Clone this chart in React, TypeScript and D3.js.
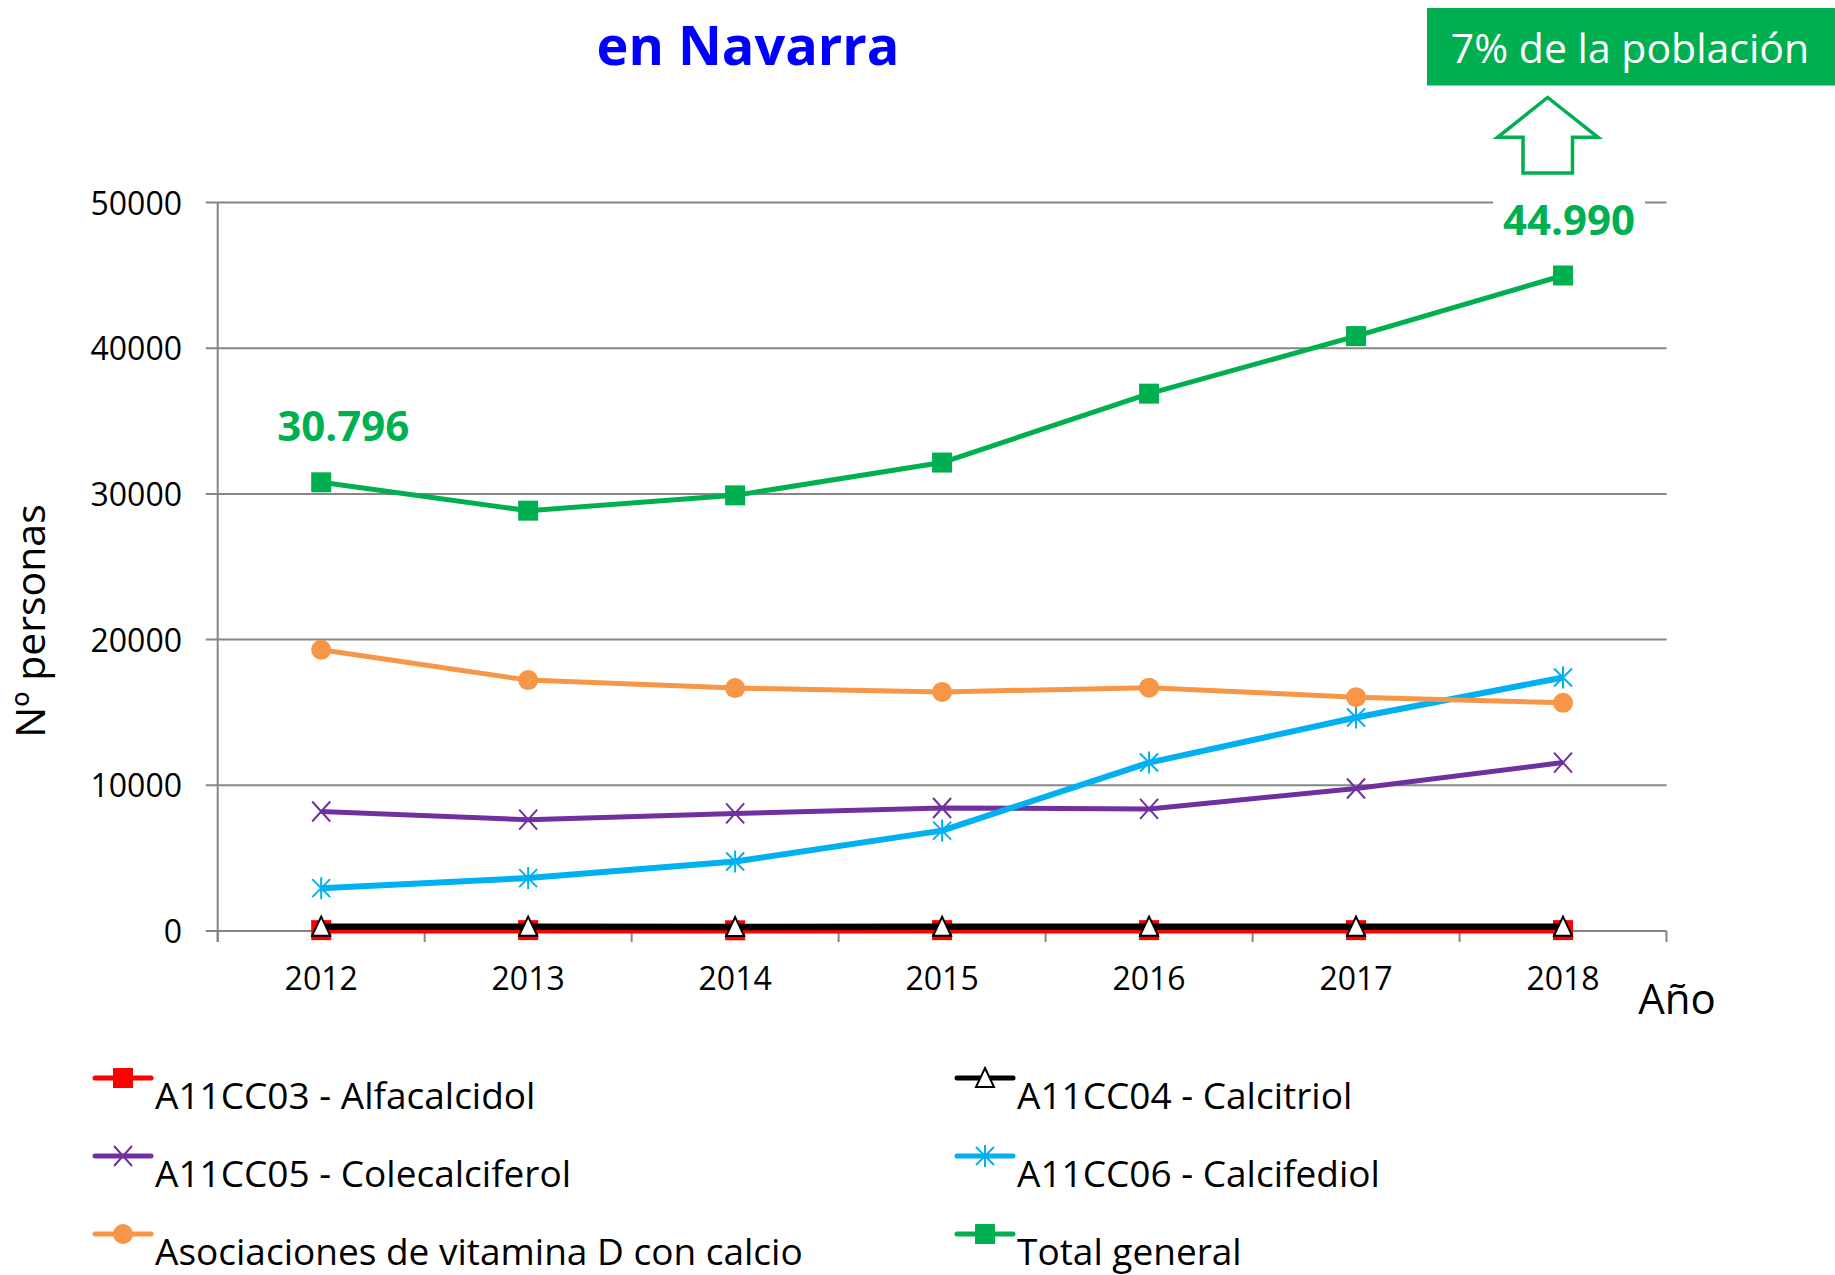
import React from "react";
import * as d3 from "d3";

const years = ["2012", "2013", "2014", "2015", "2016", "2017", "2018"];
const yTicks = [0, 10000, 20000, 30000, 40000, 50000];

const alfacalcidol = [60, 60, 50, 60, 60, 60, 60];
const calcitriol = [300, 300, 270, 290, 300, 300, 300];
const colecalciferol = [8200, 7640, 8070, 8440, 8380, 9780, 11560];
const calcifediol = [2940, 3630, 4770, 6890, 11560, 14650, 17400];
const asociaciones = [19300, 17220, 16670, 16410, 16700, 16050, 15660];
const totalGeneral = [30796, 28850, 29900, 32150, 36880, 40830, 44990];

const seriesNames = [
  "A11CC03 - Alfacalcidol",
  "A11CC04 - Calcitriol",
  "A11CC05 - Colecalciferol",
  "A11CC06 - Calcifediol",
  "Asociaciones de vitamina D con calcio",
  "Total general",
];

const FONT = "'Open Sans', 'DejaVu Sans', sans-serif";

type Marker = "square" | "triangle" | "x" | "star" | "circle";

const series: { name: string; values: number[]; color: string; width: number; marker: Marker }[] = [
  { name: seriesNames[0], values: alfacalcidol, color: "#FF0000", width: 6.5, marker: "square" },
  { name: seriesNames[1], values: calcitriol, color: "#000000", width: 6.5, marker: "triangle" },
  { name: seriesNames[2], values: colecalciferol, color: "#7030A0", width: 5, marker: "x" },
  { name: seriesNames[3], values: calcifediol, color: "#00B0F0", width: 6, marker: "star" },
  { name: seriesNames[4], values: asociaciones, color: "#F79646", width: 5, marker: "circle" },
  { name: seriesNames[5], values: totalGeneral, color: "#00B050", width: 5, marker: "square" },
];

function MarkerShape({ type, color, cx, cy }: { type: Marker; color: string; cx: number; cy: number }) {
  const s = 10;
  if (type === "square") {
    return <rect x={cx - s} y={cy - s} width={2 * s} height={2 * s} fill={color} />;
  }
  if (type === "circle") {
    return <circle cx={cx} cy={cy} r={s} fill={color} />;
  }
  if (type === "triangle") {
    return (
      <path
        d={`M${cx},${cy - 10} L${cx + 9},${cy + 9} L${cx - 9},${cy + 9} Z`}
        fill="#FFFFFF"
        stroke="#000000"
        strokeWidth={2}
        strokeLinejoin="miter"
      />
    );
  }
  if (type === "x") {
    return (
      <path
        d={`M${cx - 9},${cy - 10} L${cx + 9},${cy + 10} M${cx + 9},${cy - 10} L${cx - 9},${cy + 10}`}
        stroke={color}
        strokeWidth={2}
        fill="none"
      />
    );
  }
  return (
    <path
      d={`M${cx - 9},${cy - 9} L${cx + 9},${cy + 9} M${cx + 9},${cy - 9} L${cx - 9},${cy + 9} M${cx},${cy - 11} L${cx},${cy + 11}`}
      stroke={color}
      strokeWidth={2}
      fill="none"
    />
  );
}

export default function App() {
  const W = 1835;
  const H = 1275;
  const left = 217.7;
  const right = 1666.5;
  const top = 202.5;
  const bottom = 931;

  const x = d3.scaleBand<string>().domain(years).range([left, right]).padding(0);
  const y = d3.scaleLinear().domain([0, 50000]).range([bottom, top]);
  const cx = (yr: string) => (x(yr) as number) + x.bandwidth() / 2;

  const line = d3
    .line<number>()
    .x((_, i) => cx(years[i]))
    .y((v) => y(v));

  const gridColor = "#868686";
  const bandEdges = years.map((yr) => x(yr) as number).concat([right]);

  const legendCols = [95, 957];
  const legendRows = [1109, 1187, 1265];

  const last = years.length - 1;

  return (
    <svg
      width={W}
      height={H}
      viewBox={`0 0 ${W} ${H}`}
      style={{ position: "absolute", left: 0, top: 0, background: "#FFFFFF", display: "block" }}
    >
      <rect x={0} y={0} width={W} height={H} fill="#FFFFFF" />

      <text x={748} y={65} textAnchor="middle" fontFamily={FONT} fontWeight={700} fontSize={54} fill="#0000FF">
        en Navarra
      </text>

      {yTicks.map((t) => (
        <line key={t} x1={left - 12} x2={right} y1={y(t)} y2={y(t)} stroke={gridColor} strokeWidth={2} />
      ))}
      <line x1={left} x2={left} y1={top} y2={bottom + 11} stroke={gridColor} strokeWidth={2} />
      {bandEdges.map((e, i) => (
        <line key={i} x1={e} x2={e} y1={bottom} y2={bottom + 11} stroke={gridColor} strokeWidth={2} />
      ))}

      {yTicks.map((t) => (
        <text key={t} x={182} y={y(t) + 12} textAnchor="end" fontFamily={FONT} fontSize={32} fill="#000">
          {t}
        </text>
      ))}
      {years.map((yr) => (
        <text key={yr} x={cx(yr)} y={990} textAnchor="middle" fontFamily={FONT} fontSize={32} fill="#000">
          {yr}
        </text>
      ))}

      <text
        transform={`translate(45,621) rotate(-90)`}
        textAnchor="middle"
        fontFamily={FONT}
        fontSize={41}
        fill="#000"
      >
        Nº personas
      </text>
      <text x={1677} y={1014} textAnchor="middle" fontFamily={FONT} fontSize={42} fill="#000">
        Año
      </text>

      {series.map((s) => (
        <g key={s.name}>
          <path d={line(s.values) as string} fill="none" stroke={s.color} strokeWidth={s.width} strokeLinejoin="round" />
          {s.values.map((v, i) => (
            <MarkerShape key={i} type={s.marker} color={s.color} cx={cx(years[i])} cy={y(v)} />
          ))}
        </g>
      ))}

      <text
        x={cx(years[0]) + 22}
        y={y(totalGeneral[0]) - 41}
        textAnchor="middle"
        fontFamily={FONT}
        fontWeight={700}
        fontSize={42}
        fill="#00B050"
      >
        {d3.format(",")(totalGeneral[0]).replace(/,/g, ".")}
      </text>
      <rect x={1493} y={194} width={152} height={50} fill="#FFFFFF" />
      <text
        x={cx(years[last]) + 6}
        y={y(totalGeneral[last]) - 40}
        textAnchor="middle"
        fontFamily={FONT}
        fontWeight={700}
        fontSize={42}
        fill="#00B050"
      >
        {d3.format(",")(totalGeneral[last]).replace(/,/g, ".")}
      </text>

      <rect x={1427} y={8} width={W - 1427} height={77.5} fill="#00B050" />
      <text x={1630} y={63} textAnchor="middle" fontFamily={FONT} fontSize={41} fill="#FFFFFF">
        7% de la población
      </text>
      <path
        d="M1547.7,97.5 L1598,137.3 L1572.5,137.3 L1572.5,173 L1523,173 L1523,137.3 L1497.5,137.3 Z"
        fill="#FFFFFF"
        stroke="#00B050"
        strokeWidth={3.5}
        strokeLinejoin="miter"
      />

      {series.map((s, i) => {
        const col = i % 2;
        const row = Math.floor(i / 2);
        const mx = legendCols[col];
        const my = legendRows[row] - 31;
        return (
          <g key={s.name}>
            <line x1={mx} x2={mx + 56} y1={my} y2={my} stroke={s.color} strokeWidth={5} strokeLinecap="round" />
            <MarkerShape type={s.marker} color={s.color} cx={mx + 28} cy={my} />
            <text x={mx + 60} y={legendRows[row]} fontFamily={FONT} fontSize={37} fill="#000">
              {s.name}
            </text>
          </g>
        );
      })}
    </svg>
  );
}
